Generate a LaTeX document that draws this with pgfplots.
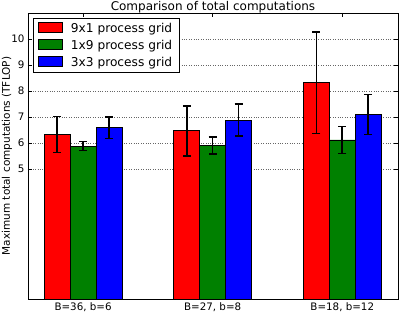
\documentclass[border=0pt]{standalone}
\usepackage{fontspec}
\setmainfont{DejaVu Sans}
\usepackage{pgfplots}
\pgfplotsset{compat=1.18}
\definecolor{mgreen}{rgb}{0,0.5,0}
\begin{document}
\begin{tikzpicture}
\begin{axis}[name=ax,
  scale only axis, width=370pt, height=286pt,
  xmin=-0.425, xmax=2.43, ymin=0, ymax=11,
  ybar, bar width=0.2,
  xtick={0,1,2}, xticklabels={{B=36, b=6},{B=27, b=8},{B=18, b=12}},
  ytick={5,6,7,8,9,10},
  xtick pos=both, ytick pos=both, tick align=inside,
  major tick length=4pt,
  tick style={black, line width=0.6pt},
  axis line style={line width=0.8pt},
  /pgf/number format/assume math mode=true,
  tick label style={font=\fontsize{10.3}{12}\selectfont},
  ymajorgrids, grid style={dotted, black!60, line width=0.6pt},
  every axis title shift=0pt,
  title={Comparison of total computations},
  title style={at={(axis description cs:0.5,1.007)}, anchor=base, yshift=0pt, inner sep=0pt, font=\fontsize{12}{14}\selectfont},
  ylabel={Maximum total computations (TFLOP)},
  ylabel style={at={(axis description cs:-0.057,0.5)}, anchor=center, font=\fontsize{10.5}{12}\selectfont},
  legend style={at={(axis description cs:0.0135,0.9825)}, anchor=north west, draw=black, line width=0.6pt,
    font=\fontsize{12.2}{14}\selectfont, row sep=2.2pt, inner xsep=5pt, inner ysep=2.5pt},
  legend cell align=left,
  legend image code/.code={\draw[#1,draw=black,line width=0.6pt] (0pt,-4pt) rectangle (24pt,6pt); \path (30pt,0pt);},
  error bars/y dir=both, error bars/y explicit,
  error bars/error bar style={line width=1.6pt, black},
  error bars/error mark options={rotate=90, mark size=4pt, line width=1.6pt, black},
]
\addplot[fill=red, draw=black, line width=0.6pt, bar shift=-0.2] table[x=x,y=y,y error=e] {
x y e
0 6.33 0.69
1 6.47 0.96
2 8.32 1.95
};
\addlegendentry{9x1 process grid}
\addplot[fill=mgreen, draw=black, line width=0.6pt, bar shift=0] table[x=x,y=y,y error=e] {
x y e
0 5.88 0.17
1 5.90 0.33
2 6.12 0.52
};
\addlegendentry{1x9 process grid}
\addplot[fill=blue, draw=black, line width=0.6pt, bar shift=0.2] table[x=x,y=y,y error=e] {
x y e
0 6.59 0.41
1 6.88 0.61
2 7.10 0.77
};
\addlegendentry{3x3 process grid}
\end{axis}
\pgfresetboundingbox
\path[use as bounding box] (ax.south west) ++(-28pt,-13pt) rectangle ++(399pt,312pt);
\end{tikzpicture}
\end{document}
